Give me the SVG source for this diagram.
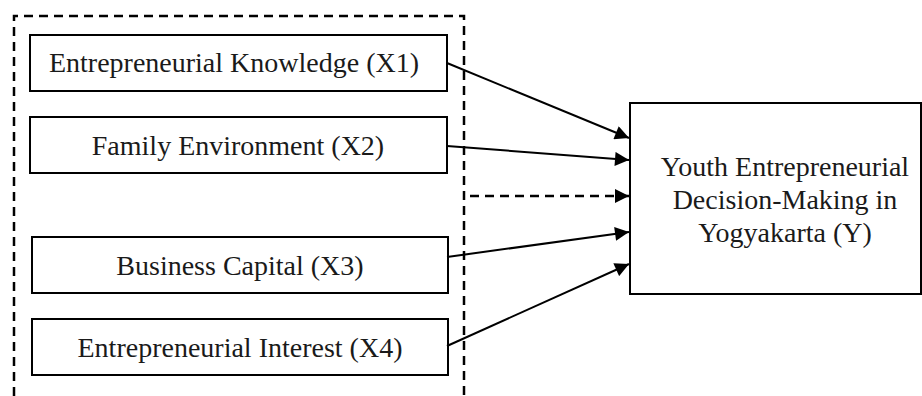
<svg xmlns="http://www.w3.org/2000/svg" width="922" height="396" viewBox="0 0 922 396">
<style>
.box{fill:#fff;stroke:#000;stroke-width:2}
.t{font-family:"Liberation Serif","Times New Roman",serif;font-size:28px;fill:#1a1a1a;text-anchor:middle}
.c{stroke:#000;stroke-width:2;fill:none}
.d{stroke:#000;stroke-width:2.5;fill:none;stroke-dasharray:9,6}
</style>
<defs>
<marker id="ah" viewBox="0 0 10 10" refX="10" refY="5" markerWidth="7.5" markerHeight="7" markerUnits="userSpaceOnUse" orient="auto">
<path d="M0,0 L10,5 L0,10 z" fill="#000"/>
</marker>
<marker id="ahb" viewBox="0 0 10 10" refX="10" refY="5" markerWidth="15" markerHeight="14" markerUnits="userSpaceOnUse" orient="auto">
<path d="M0,0 L10,5 L0,10 z" fill="#000"/>
</marker>
</defs>
<g id="group">
<path class="d" d="M14,396 V16 H464 V396"/>
</g>
<g id="x1"><rect class="box" x="30" y="35" width="417" height="56"/><text class="t" x="234" y="72">Entrepreneurial Knowledge (X1)</text></g>
<g id="x2"><rect class="box" x="30" y="117" width="417" height="56"/><text class="t" x="238" y="155">Family Environment (X2)</text></g>
<g id="x3"><rect class="box" x="32" y="237" width="416" height="56"/><text class="t" x="240" y="275">Business Capital (X3)</text></g>
<g id="x4"><rect class="box" x="32" y="319" width="416" height="56"/><text class="t" x="240" y="357">Entrepreneurial Interest (X4)</text></g>
<g id="y"><rect class="box" x="630" y="103" width="291" height="191"/>
<text class="t" x="785" y="176">Youth Entrepreneurial</text>
<text class="t" x="785" y="209">Decision-Making in</text>
<text class="t" x="785" y="242">Yogyakarta (Y)</text></g>
<g id="connectors">
<line class="c" x1="447" y1="63" x2="629" y2="138" marker-end="url(#ahb)"/>
<line class="c" x1="447" y1="146" x2="629" y2="160" marker-end="url(#ahb)"/>
<line class="d" x1="470" y1="196" x2="629" y2="196" marker-end="url(#ahb)"/>
<line class="c" x1="447" y1="257" x2="629" y2="232" marker-end="url(#ahb)"/>
<line class="c" x1="447" y1="346" x2="629" y2="264" marker-end="url(#ahb)"/>
</g>
</svg>
